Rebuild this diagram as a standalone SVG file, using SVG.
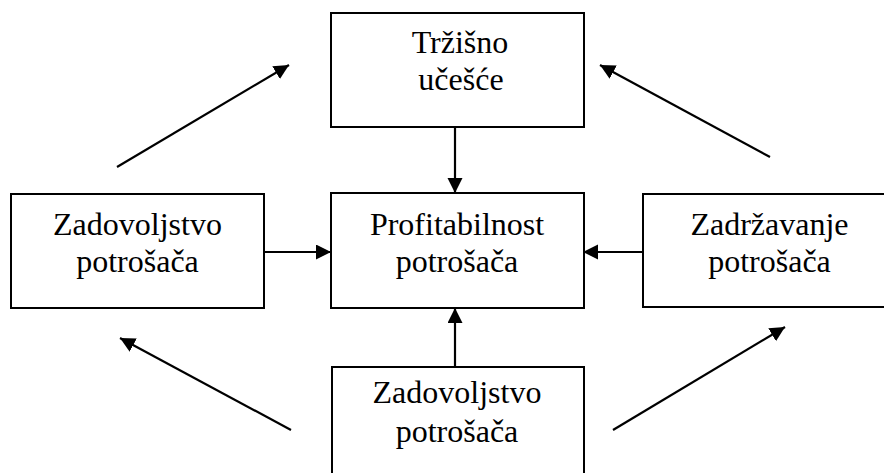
<svg xmlns="http://www.w3.org/2000/svg" width="884" height="473" viewBox="0 0 884 473">
<style>
.box{fill:#fff;stroke:#000;stroke-width:2}
.t{font-family:"Liberation Serif","Times New Roman",serif;font-size:32px;fill:#000;text-anchor:middle}
.c{stroke:#000;stroke-width:2.2;fill:none;marker-end:url(#ah)}
</style>
<defs>
<marker id="ah" markerUnits="userSpaceOnUse" markerWidth="16" markerHeight="16" refX="15" refY="7.5" orient="auto">
<path d="M0,0 L15,7.5 L0,15 z" fill="#000"/>
</marker>
</defs>
<rect width="884" height="473" fill="#fff"/>
<g id="n-trzisno">
<rect class="box" x="331" y="13" width="253" height="114"/>
<text class="t" x="460" y="53">Tržišno</text>
<text class="t" x="461" y="90">učešće</text>
</g>
<g id="n-zadovoljstvo-left">
<rect class="box" x="11" y="194" width="253" height="114"/>
<text class="t" x="137.5" y="235">Zadovoljstvo</text>
<text class="t" x="137.5" y="272">potrošača</text>
</g>
<g id="n-profitabilnost">
<rect class="box" x="331" y="193" width="253" height="115"/>
<text class="t" x="457" y="235">Profitabilnost</text>
<text class="t" x="457" y="272">potrošača</text>
</g>
<g id="n-zadrzavanje">
<rect class="box" x="643" y="194" width="253" height="113"/>
<text class="t" x="769.5" y="235">Zadržavanje</text>
<text class="t" x="769.5" y="272">potrošača</text>
</g>
<g id="n-zadovoljstvo-bottom">
<rect class="box" x="332" y="367" width="252" height="120"/>
<text class="t" x="457" y="403">Zadovoljstvo</text>
<text class="t" x="457" y="442">potrošača</text>
</g>
<g id="connectors">
<line class="c" x1="455" y1="127" x2="455" y2="193"/>
<line class="c" x1="264" y1="252" x2="331" y2="252"/>
<line class="c" x1="643" y1="252" x2="583" y2="252"/>
<line class="c" x1="455" y1="367" x2="455" y2="308"/>
<line class="c" x1="117" y1="167" x2="289" y2="65"/>
<line class="c" x1="770" y1="157" x2="600" y2="65"/>
<line class="c" x1="291" y1="430" x2="120" y2="338"/>
<line class="c" x1="613" y1="430" x2="785" y2="327"/>
</g>
</svg>
